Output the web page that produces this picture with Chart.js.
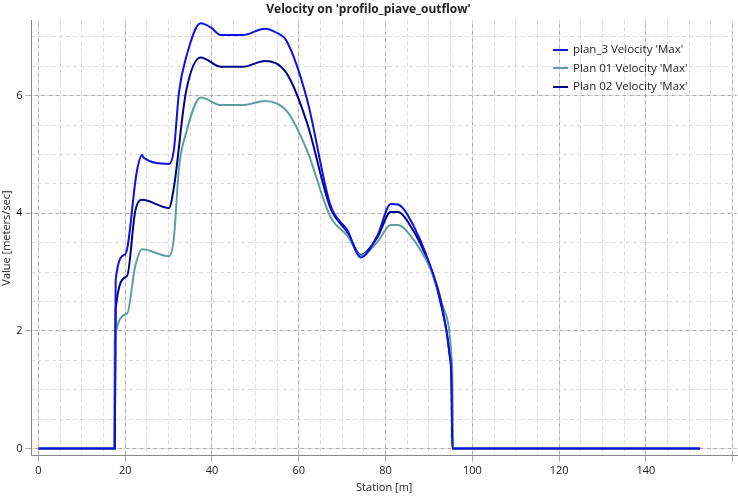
<!DOCTYPE html>
<html>
<head>
<meta charset="utf-8">
<script src="https://cdn.jsdelivr.net/npm/chart.js@4/dist/chart.umd.min.js"></script>
<style>
  body { margin: 0; background: #fff; }
  #wrap { width: 738px; height: 496px; position: relative; }
  #legend { position: absolute; left: 553px; top: 40px; font: 11.5px 'Open Sans', 'DejaVu Sans', sans-serif; color: #222; }
  #legend div { height: 18.5px; line-height: 18.5px; white-space: nowrap; }
  #legend span { display: inline-block; width: 15px; height: 2px; vertical-align: middle; margin-right: 5px; }
</style>
</head>
<body>
<div id="wrap"><canvas id="chart"></canvas><div id="legend"></div></div>
<script>
// station (m) / velocity (m/s)
const plan3X = [0, 17.6, 17.8, 20, 22.7, 23.9, 24.2, 30.1, 31.2, 32.4, 34, 37.4, 39.7, 42.1, 47.1, 52.2, 54.9, 57.2, 61.9, 67.3, 71.2, 74.3, 78.1, 81.2, 82.9, 85.1, 90.5, 92.9, 94.8, 95.2, 95.4, 152.5];
const plan3Y = [0, 0, 2.87, 3.3, 4.72, 4.99, 4.95, 4.84, 5.07, 6.06, 6.64, 7.23, 7.16, 7.03, 7.03, 7.14, 7.07, 6.93, 5.94, 4.14, 3.71, 3.25, 3.62, 4.16, 4.15, 3.97, 3.07, 2.46, 1.59, 1.16, 0, 0];

const plan1X = [0, 17.4, 17.6, 20.4, 22.3, 23.9, 30.1, 31.2, 32.4, 34, 37.4, 42.1, 47.1, 52.2, 57.2, 61.9, 67.3, 71.2, 74.3, 78.1, 81.2, 82.9, 85.1, 90.5, 92.9, 95.2, 95.4, 95.6, 152.5];
const plan1Y = [0, 0, 1.88, 2.29, 3.10, 3.39, 3.27, 3.57, 4.78, 5.36, 5.97, 5.84, 5.84, 5.91, 5.74, 5.07, 3.94, 3.62, 3.28, 3.51, 3.80, 3.80, 3.68, 3.03, 2.49, 1.56, 1.2, 0, 0];

const plan2X = [0, 17.6, 17.8, 20.4, 22.3, 23.9, 30.1, 31.2, 34, 37.4, 42.1, 47.1, 52.2, 57.2, 61.9, 67.3, 71.2, 74.3, 78.1, 81.2, 82.9, 85.1, 90.5, 92.9, 94.8, 95.2, 95.4, 152.5];
const plan2Y = [0, 0, 2.38, 2.93, 4.03, 4.23, 4.09, 4.43, 6.06, 6.65, 6.49, 6.49, 6.59, 6.38, 5.54, 4.09, 3.68, 3.29, 3.59, 4.02, 4.02, 3.86, 3.05, 2.41, 1.57, 1.12, 0, 0];

const xMajor = [0, 20, 40, 60, 80, 100, 120, 140, 160];
const yMajor = [0, 2, 4, 6];

function pts(xs, ys) { return xs.map((x, i) => ({ x: x, y: ys[i] })); }
function steps(a, b, s) { let out = []; for (let v = a; v <= b + 1e-9; v += s) out.push({ value: +v.toFixed(3) }); return out; }

Chart.defaults.font.family = "'Open Sans', 'DejaVu Sans', sans-serif";
Chart.defaults.font.size = 11;
Chart.defaults.color = "#222";

const datasets = [
    { label: "plan_3 Velocity 'Max'", data: pts(plan3X, plan3Y), borderColor: "#1010e0" },
    { label: "Plan 01 Velocity 'Max'", data: pts(plan1X, plan1Y), borderColor: "#5f9ea0" },
    { label: "Plan 02 Velocity 'Max'", data: pts(plan2X, plan2Y), borderColor: "#00008b" }
].map(d => Object.assign(d, { showLine: true, pointRadius: 0, borderWidth: 2, cubicInterpolationMode: "monotone" }));

document.getElementById("legend").innerHTML = datasets.map(d =>
    `<div><span style="background:${d.borderColor}"></span>${d.label}</div>`).join("");

const ctx = document.getElementById("chart").getContext("2d");
new Chart(ctx, {
    type: "scatter",
    data: { datasets: datasets },
    options: {
        responsive: true,
        maintainAspectRatio: false,
        animation: false,
        layout: { padding: { left: 0, right: 1, top: 0, bottom: 2 } },
        plugins: {
            title: { display: true, text: "Velocity on 'profilo_piave_outflow'", font: { weight: "bold", size: 12 }, padding: { top: 2, bottom: 4 } },
            legend: { display: false },
            tooltip: { enabled: false }
        },
        scales: {
            x: {
                type: "linear", min: -1.6, max: 161,
                afterBuildTicks: s => { s.ticks = xMajor.map(v => ({ value: v })); },
                title: { display: true, text: "Station [m]", padding: 0 },
                ticks: { callback: v => v === 160 ? "" : v },
                grid: { color: "#aaa", tickLength: 6 },
                border: { color: "#888" }
            },
            x2: {
                type: "linear", position: "bottom", min: -1.6, max: 161,
                afterBuildTicks: s => { s.ticks = steps(0, 160, 5); },
                ticks: { display: false },
                grid: { color: "#ddd", drawTicks: false },
                border: { display: false, dash: [4, 3] }
            },
            y: {
                min: -0.12, max: 7.28,
                afterBuildTicks: s => { s.ticks = yMajor.map(v => ({ value: v })); },
                title: { display: true, text: "Value [meters/sec]", padding: 0 },
                grid: { color: "#aaa", tickLength: 6 },
                border: { color: "#888" }
            },
            y2: {
                position: "left", min: -0.12, max: 7.28,
                afterBuildTicks: s => { s.ticks = steps(0, 7, 0.5); },
                ticks: { display: false },
                grid: { color: "#ddd", drawTicks: false },
                border: { display: false, dash: [4, 3] }
            }
        }
    }
});
</script>
</body>
</html>
